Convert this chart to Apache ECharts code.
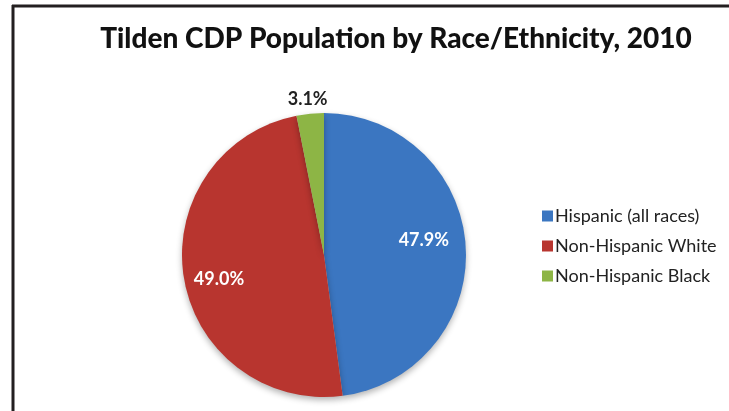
<!DOCTYPE html>
<html>
<head>
<meta charset="utf-8">
<script src="https://cdn.jsdelivr.net/npm/echarts@6/dist/echarts.min.js"></script>
<style>
html,body{margin:0;padding:0;background:#fff;}
#chart{width:729px;height:411px;}
</style>
</head>
<body>
<div id="chart"></div>
<script>
var titleText = 'Tilden CDP Population by Race/Ethnicity, 2010';
var categories = ['Hispanic (all races)', 'Non-Hispanic White', 'Non-Hispanic Black'];
var values = [47.9, 49.0, 3.1];
var colors = ['#3b76c1', '#b8352f', '#8db545'];

var chart = echarts.init(document.getElementById('chart'), null, {renderer: 'canvas'});
var font = 'Lato, "Open Sans", sans-serif';

var data = categories.map(function (c, i) {
  var d = {name: c, value: values[i], itemStyle: {color: colors[i]}};
  if (i === 2) {
    d.label = {position: 'outside', color: '#222', align: 'center', offset: [23, -9]};
  } else if (i === 0) {
    d.label = {offset: [26, -10]};
  } else {
    d.label = {offset: [-32, 12]};
  }
  return d;
});

chart.setOption({
  backgroundColor: '#ffffff',
  animation: false,
  title: {
    text: titleText,
    left: 391,
    textAlign: 'center',
    top: 20,
    textStyle: {fontFamily: font, fontWeight: 900, fontSize: 28, color: '#111'}
  },
  legend: {
    orient: 'vertical',
    left: 537,
    top: 202,
    icon: 'rect',
    itemWidth: 11,
    itemHeight: 11,
    itemGap: 12,
    textStyle: {fontFamily: font, fontSize: 18, color: '#222', padding: [0, 0, 0, -3]},
    data: categories
  },
  graphic: [
    {type: 'line', shape: {x1: 13, y1: 5, x2: 13, y2: 411}, style: {stroke: '#231f20', lineWidth: 3}},
    {type: 'line', shape: {x1: 12, y1: 6, x2: 729, y2: 6}, style: {stroke: '#231f20', lineWidth: 3}}
  ],
  series: [{
    type: 'pie',
    center: [324, 255],
    radius: [0, 142],
    startAngle: 90,
    clockwise: true,
    avoidLabelOverlap: false,
    itemStyle: {shadowBlur: 6, shadowOffsetY: 3, shadowColor: 'rgba(0,0,0,0.3)'},
    label: {
      show: true,
      position: 'inside',
      formatter: function (p) { return p.value.toFixed(1) + '%'; },
      fontFamily: font,
      fontWeight: 'bold',
      fontSize: 18,
      color: '#fff'
    },
    labelLine: {show: false, length: 6, length2: 0},
    emphasis: {disabled: true},
    data: data
  }]
});
</script>
</body>
</html>
